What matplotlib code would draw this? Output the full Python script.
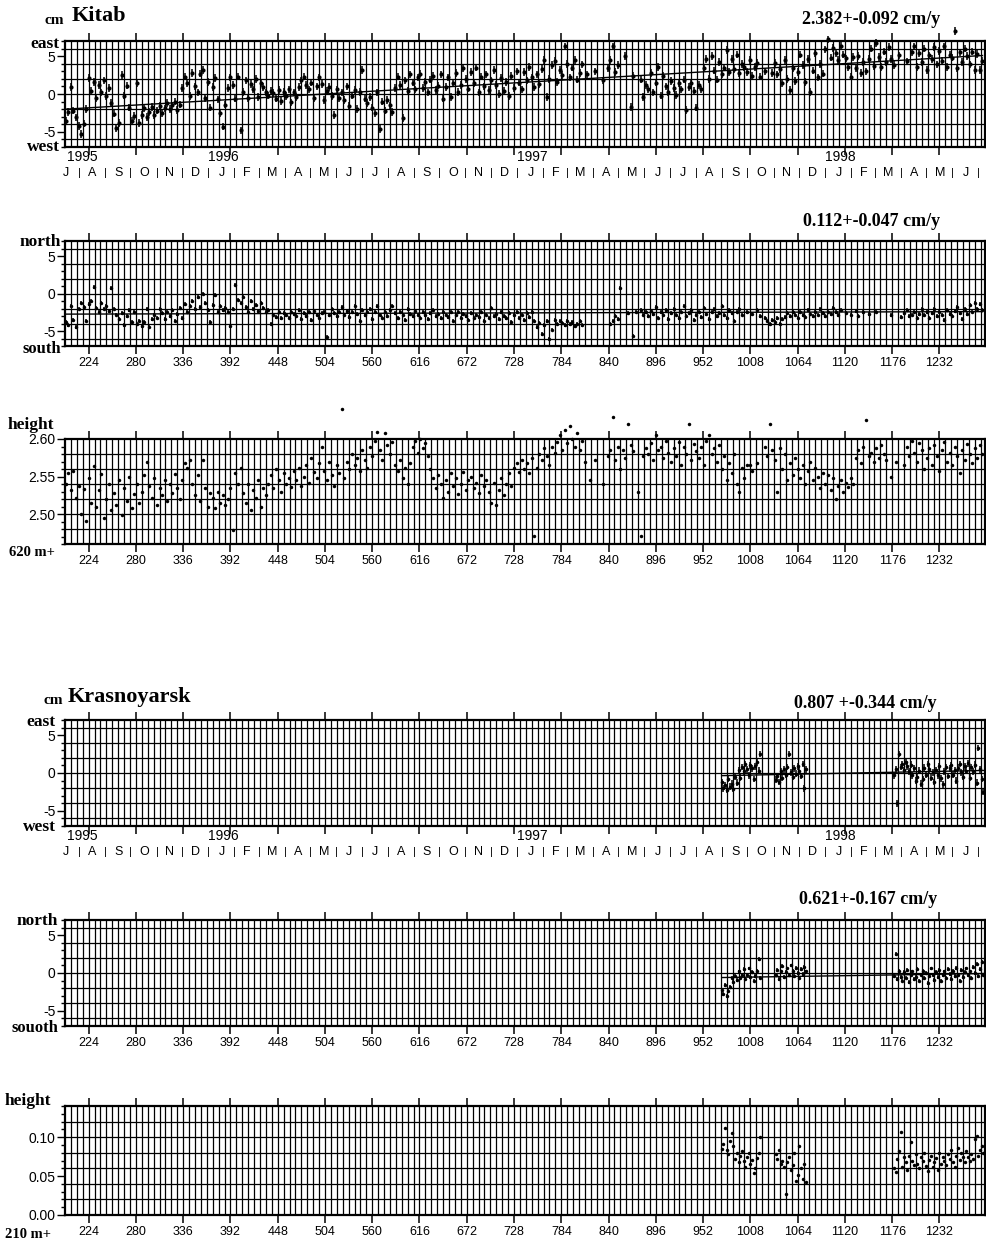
import numpy as np
import matplotlib
matplotlib.use('Agg')
import matplotlib.pyplot as plt
from datetime import date

plt.rcParams['font.family'] = ['Liberation Sans', 'DejaVu Sans']
plt.rcParams['axes.unicode_minus'] = False
SERIF = 'Liberation Serif'

# day numbers (day 1 = 1 Jan 1995)
x_min, x_max = 196, 1286
day_ticks = [224, 280, 336, 392, 448, 504, 560, 616, 672, 728, 784, 840, 896, 952, 1008, 1064, 1120, 1176, 1232]
years = ['1995', '1996', '1997', '1998']
month_letters = list('JASONDJFMAMJ' * 3)   # Jul 1995 .. Jun 1998

nan = np.nan

# ---------------- Kitab (every 3rd day) ----------------
kitab_days = np.arange(197, 1284, 3)

kitab_east = [
    -3.6, -2.4, 0.9, -2.2, -3.1, -4.2, -5.3, -3.9, -2.0, 2.1,
    0.4, 1.6, -0.5, 1.2, 0.2, 1.8, -0.3, 0.8, -1.2, -2.6,
    -4.5, -3.8, 2.5, -0.2, 1.1, -1.8, -3.6, -2.9, 1.4, -3.8,
    -2.8, -1.9, -3.0, -2.4, -1.7, -2.8, -2.2, -1.6, -2.5, -1.9,
    -1.2, -2.0, -1.5, -1.0, -2.1, -1.4, 0.8, 2.3, 1.4, -0.3,
    2.8, 1.0, 0.2, 2.7, 3.2, -0.5, 1.6, -1.8, 0.9, 2.1,
    -0.7, -2.5, -4.3, -1.4, 0.8, 2.2, 1.2, -0.6, 2.3, -4.8,
    0.3, 1.8, -0.5, 1.3, 0.6, 2.0, -0.4, 1.4, 0.9, 0.2,
    -0.2, 0.4, 0.1, -0.6, 0.5, -0.9, 0.3, -0.3, 0.6, -1.1,
    0.2, -0.4, 0.9, 1.8, 2.3, 1.2, 0.6, 1.5, -0.5, 1.0,
    2.2, 1.3, -0.8, 0.4, 0.9, -0.3, -2.8, 0.6, -0.5, 0.2,
    -0.8, 1.0, -1.6, -0.2, 0.5, -2.0, 0.3, 3.2, -0.6, -1.2,
    -0.4, -1.8, -2.5, 0.2, -4.6, -1.0, -2.2, -0.8, -1.5, -2.4,
    0.8, 2.3, 1.2, -3.2, 1.8, 0.4, 2.6, 1.5, 0.6, 2.2,
    2.7, 0.8, 1.6, 0.2, 1.9, 2.4, 0.5, 1.1, 2.6, -0.6,
    0.9, 2.2, -0.4, 1.5, 2.8, 0.3, 1.2, 3.4, 2.0, 0.7,
    2.9, 1.4, 3.5, 0.2, 2.3, 1.0, 2.6, 0.5, 1.8, 3.2,
    1.2, 0.0, 2.1, 0.4, 1.6, -0.3, 2.4, 0.8, 3.0, 1.5,
    0.6, 2.9, 1.8, 3.6, 2.2, 0.9, 2.6, 1.3, 3.3, 4.5,
    -0.4, 2.0, 3.8, 4.4, 1.6, 3.2, 2.5, 6.3, 4.0, 2.2,
    3.5, 4.5, 1.9, 2.8, 3.9, nan, 2.6, nan, nan, 3.0,
    nan, nan, 1.8, nan, 3.4, 4.5, 6.3, 2.9, 3.8, nan,
    nan, 5.0, nan, -1.7, 2.4, nan, nan, 1.9, -0.4, 1.2,
    0.6, 2.8, 0.2, 1.5, 3.6, -0.2, 2.4, 1.0, 0.3, 1.7,
    0.8, -0.1, 1.4, 0.6, 1.9, -2.1, 0.9, 1.5, 0.4, -1.8,
    1.2, 0.6, 3.4, 4.6, 2.0, 5.0, 3.1, 1.9, 4.2, 2.6,
    3.5, 5.8, 2.9, 4.6, 3.3, 5.2, 2.8, 4.0, 3.6, 2.9,
    4.5, 2.4, 3.6, 4.1, 2.3, nan, 3.0, nan, nan, 2.8,
    4.1, 2.6, 3.3, 1.4, 4.5, 2.0, 0.5, 3.4, 1.7, 2.9,
    5.2, 3.8, 1.6, 4.6, 0.3, 3.1, 5.4, 2.2, 4.0, 2.7,
    5.9, 7.2, 4.8, 6.1, 5.4, 4.5, 6.4, 5.2, 4.7, 3.6,
    2.3, 4.9, 3.4, 5.0, 2.8, 4.2, 3.0, 4.6, 6.0, 3.7,
    6.7, 4.9, 3.6, 5.6, 4.2, 6.2, 4.6, 3.8, nan, 5.1,
    nan, nan, 4.3, nan, 5.5, 6.3, 3.6, 5.4, 4.2, 6.0,
    3.2, 5.1, 4.6, 6.2, 3.9, 5.7, 4.4, 6.3, 3.6, 5.2,
    4.8, 8.3, 3.4, 5.5, 4.2, 6.0, 5.0, 3.9, 5.6, 3.2,
    5.3, 3.2, 4.4,
]

kitab_north = [
    -3.8, -4.2, -1.6, -3.5, -4.5, -2.0, -1.2, -1.8, -3.6, -1.4,
    -1.0, 0.9, -1.9, -2.4, -1.3, -2.0, -1.6, -2.3, 0.7, -2.0,
    -2.8, -3.4, -2.6, -4.2, -3.0, -2.2, -3.8, -2.5, -4.0, -3.6,
    -4.3, -3.8, -2.1, -4.5, -3.4, -2.8, -3.2, -2.0, -2.6, -3.4,
    -2.4, -3.0, -2.2, -3.6, -2.7, -1.9, -3.3, -1.4, -2.4, -1.6,
    -1.0, -2.0, -0.5, -1.8, 0.0, -1.3, -2.2, -3.8, -1.5, -0.2,
    -2.4, -1.6, -2.2, -1.9, -2.5, -4.3, -2.0, 1.2, -0.8, -1.2,
    -0.5, -1.8, -2.4, -1.0, -2.0, -1.5, -2.3, -1.2, -1.9, -2.4,
    -2.2, -4.0, -2.8, -3.1, -2.5, -3.3, -2.6, -2.9, -3.2, -2.4,
    -2.7, -3.0, -2.2, -3.4, -2.6, -3.0, -2.5, -3.5, -2.3, -2.8,
    -3.2, -2.6, -2.4, -5.8, -2.9, -2.1, -2.6, -3.0, -2.4, -1.8,
    -2.8, -2.3, -3.1, -2.5, -1.6, -2.7, -3.6, -2.2, -2.9, -2.4,
    -2.0, -3.4, -2.5, -1.7, -2.8, -3.2, -2.4, -3.0, -2.2, -1.6,
    -2.6, -3.3, -2.4, -2.9, -3.5, -2.1, -2.7, -3.0, -2.3, -2.8,
    -3.2, -2.5, -2.9, -3.4, -2.6, -2.2, -3.0, -2.7, -3.3, -2.4,
    -2.8, -3.1, -2.5, -3.6, -2.9, -2.4, -3.2, -2.7, -3.0, -3.5,
    -2.6, -3.3, -2.9, -3.1, -2.4, -3.6, -2.8, -3.2, -1.9, -3.0,
    -2.7, -3.4, -2.5, -3.0, -3.3, -2.6, -3.8, -2.9, -2.5, -3.2,
    -2.8, -3.5, -2.6, -3.1, -2.4, -3.6, -4.5, -3.9, -5.4, -4.2,
    -3.7, -6.0, -4.8, -3.5, -4.0, -3.6, -3.9, -4.2, -3.7, -4.1,
    -3.8, -4.3, -4.0, -3.7, -4.2, nan, nan, nan, nan, nan,
    nan, nan, nan, nan, nan, -4.1, -3.6, -3.0, -3.4, 0.7,
    nan, nan, -2.6, nan, -5.7, -2.4, nan, -2.2, -2.8, -2.5,
    -3.0, -2.3, -2.7, -1.8, -3.2, -2.5, -2.9, -2.2, -3.4, -2.6,
    -2.0, -2.8, -3.3, -2.4, -1.6, -3.0, -2.6, -2.2, -3.5, -2.8,
    -2.4, -3.1, -1.9, -2.7, -3.4, -2.5, -2.1, -3.0, -2.6, -1.7,
    -2.9, -3.3, -2.2, -2.6, -3.6, -2.4, -2.0, -2.8, nan, -2.5,
    nan, -2.7, nan, -2.2, -3.0, nan, -3.2, -3.6, -4.1, -3.5,
    -3.8, -3.3, -4.0, -3.4, -3.1, -2.6, -3.0, -2.4, -2.8, -3.2,
    -2.5, -2.9, -3.1, -2.2, -2.7, -3.0, -2.4, -2.8, -2.1, -2.6,
    -3.0, -2.4, -2.7, -1.9, -2.5, -2.9, -2.2, nan, -2.6, nan,
    -2.8, nan, -2.3, -3.0, nan, -2.5, nan, -2.7, nan, nan,
    -2.4, nan, nan, nan, nan, nan, -2.9, nan, nan, nan,
    -3.1, -2.6, -2.2, -3.0, -2.8, -2.4, -3.3, -2.7, -2.0, -2.9,
    -2.5, -3.2, -2.6, -2.1, -3.0, -2.4, -2.8, -3.5, -2.2, -2.7,
    -3.0, -2.3, -1.8, -2.6, -3.4, -2.0, -2.7, -1.5, -2.4, -1.2,
    -2.0, -1.4, -2.2,
]

kitab_height = [
    2.540, 2.555, 2.532, 2.558, 2.521, 2.538, 2.500, 2.533, 2.490, 2.548,
    2.515, 2.564, 2.510, 2.532, 2.553, 2.495, 2.520, 2.540, 2.505, 2.528,
    2.512, 2.545, 2.498, 2.535, 2.518, 2.550, 2.508, 2.527, 2.540, 2.515,
    2.530, 2.552, 2.569, 2.538, 2.522, 2.548, 2.512, 2.535, 2.525, 2.545,
    2.518, 2.540, 2.528, 2.553, 2.535, 2.520, 2.545, 2.568, 2.562, 2.572,
    2.540, 2.525, 2.552, 2.518, 2.572, 2.535, 2.510, 2.528, 2.522, 2.508,
    2.530, 2.515, 2.525, 2.512, 2.520, 2.535, 2.478, 2.555, 2.540, 2.562,
    2.528, 2.515, 2.540, 2.505, 2.532, 2.522, 2.545, 2.510, 2.535, 2.526,
    2.540, 2.552, 2.535, 2.560, 2.545, 2.530, 2.555, 2.540, 2.548, 2.536,
    2.558, 2.545, 2.562, 2.538, 2.550, 2.566, 2.542, 2.575, 2.556, 2.548,
    2.568, 2.590, 2.558, 2.545, 2.570, 2.552, 2.538, 2.565, 2.555, 2.640,
    2.548, 2.570, 2.560, 2.580, 2.566, 2.575, 2.558, 2.585, 2.572, 2.562,
    2.590, 2.578, 2.598, 2.610, 2.585, 2.572, 2.608, 2.592, 2.580, 2.596,
    2.565, 2.558, 2.572, 2.548, 2.562, 2.540, 2.568, 2.590, 2.598, 2.582,
    2.600, 2.588, 2.595, 2.578, 2.560, 2.548, 2.535, 2.552, 2.540, 2.522,
    2.545, 2.530, 2.555, 2.538, 2.548, 2.527, 2.540, 2.556, 2.532, 2.545,
    2.550, 2.535, 2.542, 2.528, 2.552, 2.538, 2.546, 2.530, 2.515, 2.542,
    2.512, 2.532, 2.548, 2.525, 2.540, 2.555, 2.538, 2.562, 2.568, 2.556,
    2.572, 2.560, 2.568, 2.555, 2.575, 2.470, 2.562, 2.580, 2.572, 2.588,
    2.578, 2.565, 2.590, 2.582, 2.596, 2.605, 2.585, 2.612, 2.595, 2.618,
    2.600, 2.590, 2.608, 2.585, 2.598, 2.570, nan, 2.545, nan, 2.572,
    nan, nan, 2.540, nan, 2.578, 2.585, 2.630, 2.572, 2.590, 2.560,
    2.585, 2.575, 2.620, 2.592, 2.584, nan, 2.530, 2.470, 2.578, 2.588,
    2.580, 2.595, 2.572, 2.605, 2.585, 2.590, 2.575, 2.598, 2.582, 2.570,
    2.588, 2.578, 2.596, 2.565, 2.590, 2.580, 2.620, 2.572, 2.594, 2.584,
    2.575, 2.590, 2.566, 2.598, 2.605, 2.580, 2.588, 2.570, 2.592, 2.560,
    2.578, 2.545, 2.568, 2.555, 2.580, 2.540, 2.530, 2.562, 2.548, 2.566,
    2.565, 2.558, nan, 2.568, nan, nan, 2.590, 2.578, 2.620, 2.585,
    2.572, 2.530, 2.588, 2.560, 2.580, 2.545, 2.568, 2.552, 2.575, 2.560,
    2.548, 2.566, 2.540, 2.558, 2.570, 2.545, 2.562, 2.550, 2.535, 2.555,
    2.540, 2.552, 2.532, 2.548, 2.520, 2.538, 2.545, 2.530, 2.542, 2.536,
    2.548, 2.540, 2.575, 2.585, 2.568, 2.590, 2.625, 2.578, 2.582, 2.570,
    2.588, 2.575, 2.592, 2.580, 2.572, nan, 2.550, nan, 2.570, nan,
    nan, 2.565, 2.590, 2.578, 2.598, 2.582, 2.570, 2.595, 2.585, 2.560,
    2.575, 2.588, 2.565, 2.592, 2.578, 2.558, 2.585, 2.596, 2.570, 2.582,
    2.565, 2.590, 2.578, 2.555, 2.585, 2.572, 2.594, 2.580, 2.568, 2.588,
    2.575, 2.592, 2.580,
]

# ---------------- Krasnoyarsk (every 2nd day, three spans) ----------------
kras_days = np.concatenate([np.arange(974, 1022, 2), np.arange(1038, 1076, 2), np.arange(1178, 1286, 2)])

kras_east = [
    -1.2, -2.0, -1.6, -2.2, -0.8, -1.8, -1.4, -2.1, -0.5, -1.3, 0.4, -0.6,
    0.8, 0.2, 1.2, 0.5, -0.3, 1.0, 0.6, -0.8, 0.9, 1.4, 0.3, 2.5,
    -0.9, -0.4, -1.2, 0.2, -0.6, 0.5, -0.2, 0.8, 2.5, 0.1, -0.5, 0.6,
    -0.1, 0.9, 0.3, -0.4, 1.2, -2.0, 0.5,
    -0.3, 0.5, -4.0, 2.5, 0.8, 1.2, 0.4, 1.5, 0.9, 0.2, 1.1, -0.3,
    0.6, -1.0, -0.5, 0.3, -1.4, -0.8, 0.7, -0.2, 1.2, 0.5, -0.6, 0.1,
    -1.2, 0.4, -0.3, 0.9, -0.7, -1.5, 0.2, 0.8, -0.4, 0.6, 1.0, -0.2,
    0.4, -1.0, 0.7, 1.2, 0.1, -0.5, 0.9, 0.3, 1.3, -0.6, 0.8, 0.2,
    1.1, -1.3, 3.3, 0.5, -0.8, -2.5,
]

kras_north = [
    -2.2, -2.8, -1.6, -3.0, -2.4, -1.8, -0.6, -1.2, -0.4, -0.9, 0.2, -0.6,
    -0.3, 0.5, -0.8, -0.2, 0.6, -0.5, 0.1, -1.0, -0.4, 0.3, 1.8, -0.6,
    -0.3, 0.4, -0.8, 0.2, 0.9, -0.5, 0.1, 0.6, -0.2, 1.0, 0.3, -0.4,
    0.7, 0.0, -0.6, 0.5, -0.1, 0.8, 0.2,
    -0.4, 2.5, -0.8, 0.3, -0.5, -1.0, 0.1, -0.6, 0.4, -1.2, -0.3, 0.2,
    -0.8, -0.5, 0.5, -1.0, -0.2, 0.3, -0.7, 0.0, -1.3, -0.4, 0.6, -0.2,
    -0.9, 0.1, -0.5, 0.4, -1.1, -0.3, 0.2, -0.6, 0.5, -0.1, -0.8, 0.3,
    -0.4, 0.7, -0.2, -1.0, 0.4, -0.5, 0.1, 0.6, -0.3, 0.2, -0.7, 0.8,
    0.0, 1.2, -0.4, 0.5, 1.5, -0.2,
]

kras_height = [
    0.085, 0.091, 0.112, 0.083, 0.078, 0.095, 0.105, 0.088, 0.072, 0.080, 0.068, 0.076,
    0.082, 0.070, 0.062, 0.074, 0.079, 0.066, 0.071, 0.054, 0.060, 0.073, 0.080, 0.100,
    0.078, 0.072, 0.084, 0.065, 0.070, 0.062, 0.027, 0.068, 0.075, 0.058, 0.064, 0.080,
    0.044, 0.052, 0.088, 0.061, 0.046, 0.066, 0.042,
    0.060, 0.055, 0.072, 0.082, 0.106, 0.062, 0.075, 0.068, 0.058, 0.076, 0.094, 0.070,
    0.064, 0.078, 0.066, 0.060, 0.074, 0.069, 0.080, 0.063, 0.057, 0.071, 0.076, 0.062,
    0.068, 0.073, 0.058, 0.080, 0.066, 0.075, 0.070, 0.064, 0.078, 0.072, 0.084, 0.068,
    0.062, 0.076, 0.086, 0.071, 0.080, 0.074, 0.068, 0.082, 0.075, 0.070, 0.078, 0.072,
    0.098, 0.101, 0.076, 0.084, 0.088, 0.079,
]

# linear fits: (value at first day, rate in cm/y)
kitab_east_fit = (-2.0, 2.382)
kitab_north_fit = (-2.75, 0.112)
kras_east_fit = (-0.35, 0.807)
kras_north_fit = (-0.6, 0.621)

W, H = 987, 1247
fig = plt.figure(figsize=(W / 100, H / 100), dpi=100)


def px_axes(top, bottom, left=65, right=985):
    return fig.add_axes([left / W, 1 - bottom / H, (right - left) / W, (bottom - top) / H])


def frame(ax, ylim, ymajor, yminor, ygrid, ylabels):
    ax.set_xlim(x_min, x_max)
    ax.set_ylim(*ylim)
    for d in range(203, x_max, 7):
        ax.axvline(d, color='k', lw=0.9, zorder=1)
    for v in ygrid:
        ax.axhline(v, color='k', lw=0.9, zorder=1)
    ax.set_xticks(day_ticks)
    ax.set_xticklabels([str(d) for d in day_ticks])
    ax.set_yticks(ymajor)
    ax.set_yticklabels(ylabels)
    ax.set_yticks(yminor, minor=True)
    ax.tick_params(axis='x', which='major', direction='out', length=6, width=1.1,
                   top=True, bottom=True, labelsize=9, pad=2)
    ax.tick_params(axis='y', which='both', direction='out', left=True, right=True,
                   labelsize=10, pad=1, width=1.0)
    ax.tick_params(axis='y', which='major', length=6)
    ax.tick_params(axis='y', which='minor', length=3)
    for s in ax.spines.values():
        s.set_linewidth(1.6)


def dots(ax, days, vals, err, ms):
    days = np.asarray(days, float)
    vals = np.asarray(vals, float)
    ok = ~np.isnan(vals)
    if err:
        ax.vlines(days[ok], vals[ok] - err, vals[ok] + err, color='k', lw=1.1, zorder=3, clip_on=False)
    ax.plot(days[ok], vals[ok], 'o', color='k', ms=ms, mew=0, zorder=4, clip_on=False)


def fit(ax, days, start_rate):
    v0, rate = start_rate
    d0, d1 = days[0], days[-1]
    ax.plot([d0, d1], [v0, v0 + rate * (d1 - d0) / 365.25], color='k', lw=1.0, zorder=5)


def calendar_labels(ax):
    ax.set_xticklabels([])
    tr = ax.get_xaxis_transform()
    for k, yr in enumerate(years):
        d = max((date(1995 + k, 1, 1) - date(1994, 12, 31)).days, x_min + 2)
        ax.text(d, -0.09, yr, transform=tr, ha='left', va='center', fontsize=10)
    for k, m in enumerate(month_letters):
        y, mo = 1995 + (6 + k) // 12, (6 + k) % 12 + 1
        y2, mo2 = 1995 + (7 + k) // 12, (7 + k) % 12 + 1
        a = (date(y, mo, 1) - date(1994, 12, 31)).days
        b = (date(y2, mo2, 1) - date(1994, 12, 31)).days
        ax.text((a + b) / 2, -0.245, m, transform=tr, ha='center', va='center', fontsize=9)
        if b < x_max:
            ax.text(b, -0.245, '|', transform=tr, ha='center', va='center', fontsize=8)


def label(x, y, s, size=12.5, ha='right'):
    fig.text(x / W, 1 - y / H, s, fontsize=size, fontweight='bold', family=SERIF, ha=ha, va='center')


cm_ticks = ([-5, 0, 5], np.arange(-7, 8, 1), [-6, -4, -2, 0, 2, 4, 6], ['-5', '0', '5'])

# ---- Kitab ----
ax = px_axes(41, 147)
frame(ax, (-7, 7), *cm_ticks)
dots(ax, kitab_days, kitab_east, 0.5, 3.0)
fit(ax, kitab_days, kitab_east_fit)
calendar_labels(ax)

ax = px_axes(241, 346)
frame(ax, (-7, 7), *cm_ticks)
dots(ax, kitab_days, kitab_north, 0.25, 2.5)
fit(ax, kitab_days, kitab_north_fit)

ax = px_axes(439, 544)
frame(ax, (2.46, 2.60), [2.50, 2.55, 2.60], np.arange(2.46, 2.605, 0.01),
      [2.48, 2.50, 2.52, 2.54, 2.56, 2.58], ['2.50', '2.55', '2.60'])
dots(ax, kitab_days, kitab_height, 0, 2.5)

label(45, 21, 'cm', 11, ha='left')
label(72, 16, 'Kitab', 16, ha='left')
label(940, 20, '2.382+-0.092 cm/y', 13)
label(60, 44, 'east')
label(60, 147, 'west')
label(940, 222, '0.112+-0.047 cm/y', 13)
label(61, 242, 'north')
label(61, 349, 'south', 12)
label(8, 425, 'height', ha='left')
label(9, 552, '620 m+', 10.5, ha='left')

# ---- Krasnoyarsk ----
ax = px_axes(720, 826)
frame(ax, (-7, 7), *cm_ticks)
dots(ax, kras_days, kras_east, 0.45, 2.6)
fit(ax, kras_days, kras_east_fit)
calendar_labels(ax)

ax = px_axes(920, 1026)
frame(ax, (-7, 7), *cm_ticks)
dots(ax, kras_days, kras_north, 0.25, 2.5)
fit(ax, kras_days, kras_north_fit)

ax = px_axes(1106, 1215)
frame(ax, (0.0, 0.14), [0.00, 0.05, 0.10], np.arange(0.0, 0.145, 0.01),
      [0.02, 0.04, 0.06, 0.08, 0.10, 0.12], ['0.00', '0.05', '0.10'])
dots(ax, kras_days, kras_height, 0, 2.5)

label(43, 701, 'cm', 11, ha='left')
label(68, 697, 'Krasnoyarsk', 16, ha='left')
label(937, 703, '0.807 +-0.344 cm/y', 13)
label(56, 722, 'east')
label(56, 827, 'west')
label(937, 900, '0.621+-0.167 cm/y', 13)
label(58, 921, 'north')
label(58, 1028, 'souoth', 12)
label(5, 1101, 'height', ha='left')
label(5, 1235, '210 m+', 10.5, ha='left')

fig.savefig('out.png', dpi=100)
